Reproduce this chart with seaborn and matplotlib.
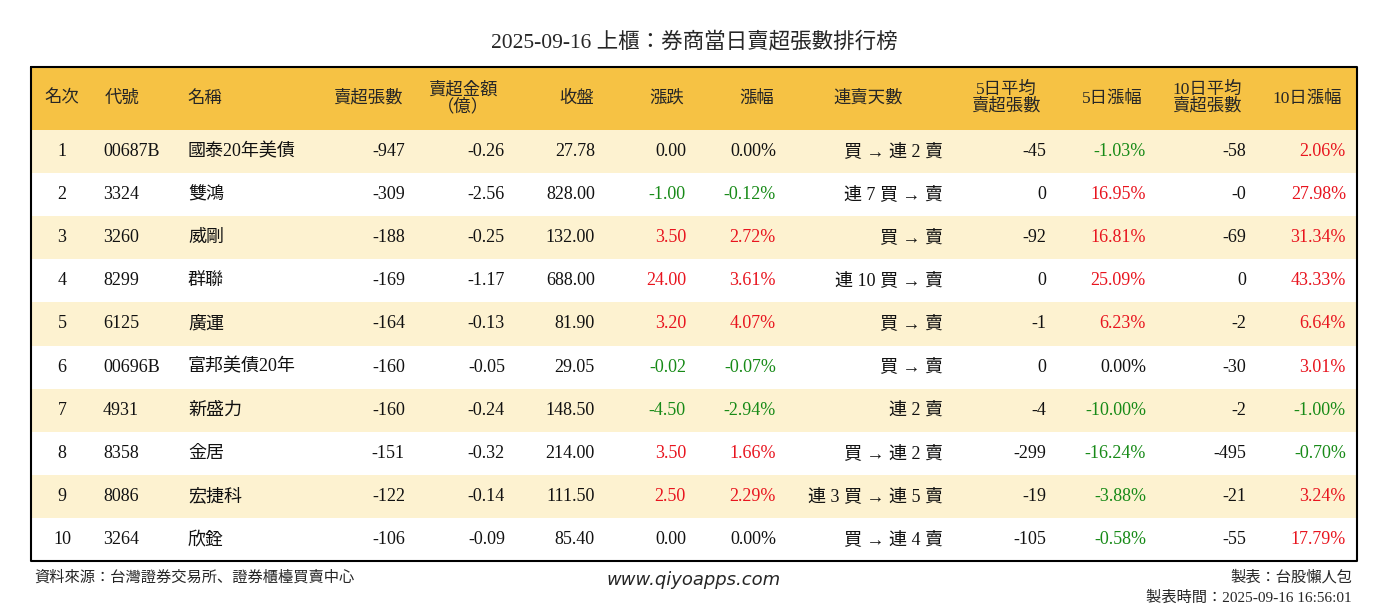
import matplotlib
matplotlib.use("Agg")
import matplotlib.pyplot as plt
from matplotlib import font_manager
import seaborn as sns

sns.set_style("white")
avail = {f.name for f in font_manager.fontManager.ttflist}
cjk = [n for n in ["Noto Sans CJK TC", "Noto Sans CJK JP", "Noto Sans CJK SC", "Noto Sans CJK KR",
                   "Noto Serif CJK TC", "Noto Serif CJK JP"] if n in avail]
plt.rcParams["font.family"] = ["Liberation Serif"] + cjk + ["DejaVu Sans"]

title = "2025-09-16 上櫃：券商當日賣超張數排行榜"
headers = ["名次", "代號", "名稱", "賣超張數", "賣超金額\n（億）", "收盤", "漲跌", "漲幅", "連賣天數",
           "5日平均\n賣超張數", "5日漲幅", "10日平均\n賣超張數", "10日漲幅"]
ranks = ["1", "2", "3", "4", "5", "6", "7", "8", "9", "10"]
codes = ["00687B", "3324", "3260", "8299", "6125", "00696B", "4931", "8358", "8086", "3264"]
names = ["國泰20年美債", "雙鴻", "威剛", "群聯", "廣運", "富邦美債20年", "新盛力", "金居", "宏捷科", "欣銓"]
net_sell = ["-947", "-309", "-188", "-169", "-164", "-160", "-160", "-151", "-122", "-106"]
amount = ["-0.26", "-2.56", "-0.25", "-1.17", "-0.13", "-0.05", "-0.24", "-0.32", "-0.14", "-0.09"]
close = ["27.78", "828.00", "132.00", "688.00", "81.90", "29.05", "148.50", "214.00", "111.50", "85.40"]
change = ["0.00", "-1.00", "3.50", "24.00", "3.20", "-0.02", "-4.50", "3.50", "2.50", "0.00"]
pct = ["0.00%", "-0.12%", "2.72%", "3.61%", "4.07%", "-0.07%", "-2.94%", "1.66%", "2.29%", "0.00%"]
streak = ["買 → 連 2 賣", "連 7 買 → 賣", "買 → 賣", "連 10 買 → 賣", "買 → 賣", "買 → 賣",
          "連 2 賣", "買 → 連 2 賣", "連 3 買 → 連 5 賣", "買 → 連 4 賣"]
avg5 = ["-45", "0", "-92", "0", "-1", "0", "-4", "-299", "-19", "-105"]
pct5 = ["-1.03%", "16.95%", "16.81%", "25.09%", "6.23%", "0.00%", "-10.00%", "-16.24%", "-3.88%", "-0.58%"]
avg10 = ["-58", "-0", "-69", "0", "-2", "-30", "-2", "-495", "-21", "-55"]
pct10 = ["2.06%", "27.98%", "31.34%", "43.33%", "6.64%", "3.01%", "-1.00%", "-0.70%", "3.24%", "17.79%"]

RED, GREEN, BLACK = "#e8141e", "#178a17", "#111111"

def col(v):
    f = float(v.replace("%", ""))
    if f > 0: return RED
    if f < 0: return GREEN
    return BLACK

fig = plt.figure(figsize=(13.88, 6.12), dpi=100)
ax = fig.add_axes([0, 0, 1, 1])
ax.set_xlim(0, 1388)
ax.set_ylim(612, 0)
ax.axis("off")

L, R = 31, 1357
top, hh, rh = 67, 63, 43.1
ax.barh([top + hh / 2], [R - L], left=L, height=hh, color="#f6c244", edgecolor="none")
ys = [top + hh + rh * (i + 0.5) for i in range(10)]
ax.barh(ys, [R - L] * 10, left=L, height=rh,
        color=["#fdf2d0" if i % 2 == 0 else "white" for i in range(10)], edgecolor="none")
ax.plot([L, R, R, L, L], [top, top, top + hh + 10 * rh, top + hh + 10 * rh, top], color="black", lw=1.5)

fs = 13
ax.text(694, 42, title, ha="center", va="center", fontsize=15.5)
cols = [(62, "center"), (103, "left"), (188, "left"), (405, "right"), (505, "right"), (595, "right"),
        (686, "right"), (776, "right"), (943, "right"), (1046, "right"), (1146, "right"), (1246, "right"),
        (1346, "right")]
hx = [(62, "center"), (122, "center"), (205, "center"), (368, "center"), (463, "center"), (577, "center"),
      (667, "center"), (757, "center"), (868, "center"), (1006, "center"), (1112, "center"),
      (1207, "center"), (1307, "center")]
for (x, ha), h in zip(hx, headers):
    ax.text(x, top + hh / 2, h, ha=ha, va="center", fontsize=12.5, linespacing=1.0)

data = [ranks, codes, names, net_sell, amount, close, change, pct, streak, avg5, pct5, avg10, pct10]
colored = {6, 7, 10, 12}
for j, ((x, ha), arr) in enumerate(zip(cols, data)):
    for i, v in enumerate(arr):
        c = col(v) if j in colored else BLACK
        ax.text(x, ys[i], v, ha=ha, va="center", fontsize=fs, color=c)

ax.text(34, 577, "資料來源：台灣證券交易所、證券櫃檯買賣中心", ha="left", va="center", fontsize=11)
ax.text(694, 580, "www.qiyoapps.com", ha="center", va="center", fontsize=13, style="italic",
        family="DejaVu Sans")
ax.text(1352, 577, "製表：台股懶人包", ha="right", va="center", fontsize=11)
ax.text(1352, 598, "製表時間：2025-09-16 16:56:01", ha="right", va="center", fontsize=11)

fig.savefig("out.png", dpi=100)
